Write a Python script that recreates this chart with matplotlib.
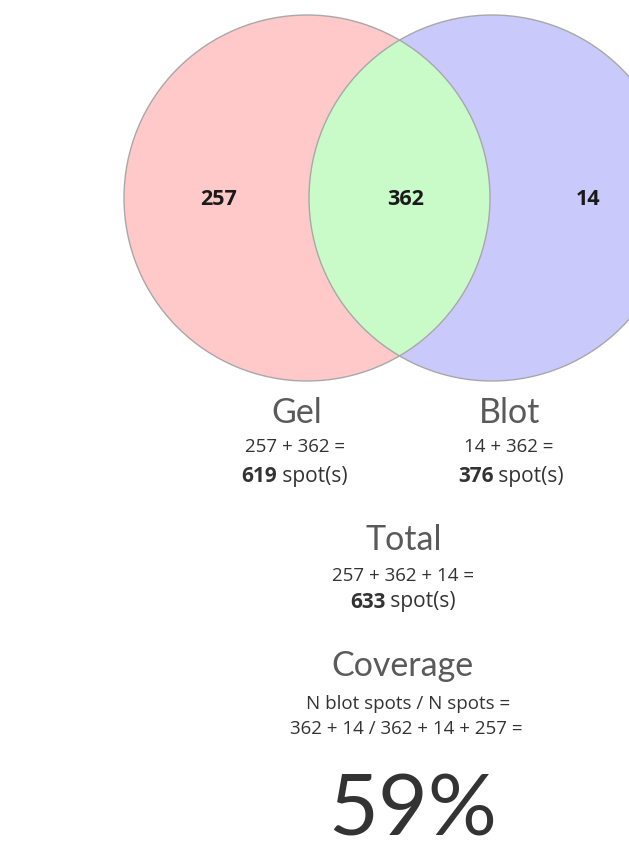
import matplotlib.pyplot as plt
from matplotlib.patches import Circle

# region counts of the two-set diagram
set_names = ['Gel', 'Blot']
only_gel = 257
shared = 362
only_blot = 14

gel_total = only_gel + shared
blot_total = only_blot + shared
total = only_gel + shared + only_blot
coverage = (shared + only_blot) / total * 100

pink = '#ffc9c9'
blue = '#c9c9fb'
green = '#c9fbc9'
edge = '#a8a8a8'

fig = plt.figure(figsize=(6.29, 8.57), dpi=100)
ax = fig.add_axes([0, 0, 1, 1])
ax.set_xlim(0, 629)
ax.set_ylim(857, 0)
ax.set_aspect('equal')
ax.axis('off')

r = 183
left = Circle((307, 198), r, facecolor=pink, edgecolor='none')
right = Circle((492, 198), r, facecolor=blue, edgecolor='none')
ax.add_patch(left)
ax.add_patch(right)
mid = Circle((307, 198), r, facecolor=green, edgecolor='none')
ax.add_patch(mid)
mid.set_clip_path(right)
for c in [(307, 198), (492, 198)]:
    ax.add_patch(Circle(c, r, facecolor='none', edgecolor=edge, lw=1.0))

num_kw = dict(family='Open Sans', fontweight='bold', fontsize=15.5,
              color='#1a1a1a', ha='center', va='center')
ax.text(219, 199, str(only_gel), **num_kw)
ax.text(406, 199, str(shared), **num_kw)
ax.text(588, 199, str(only_blot), **num_kw)

title_kw = dict(family='Lato', fontweight='normal', fontsize=24.5,
                color='#5a5a5a', ha='center', va='center')
form_kw = dict(family='Open Sans', fontsize=13.5, color='#333333',
               ha='center', va='center')
spot_kw = dict(family='Open Sans', fontsize=15, color='#333333',
               va='center')


def spot_line(x, y, n):
    t = ax.text(x, y, f'{n}', fontweight='bold', ha='right', **spot_kw)
    t2 = ax.text(x, y, ' spot(s)', ha='left', **spot_kw)
    fig.canvas.draw()
    inv = ax.transData.inverted()
    bb1 = t.get_window_extent().transformed(inv)
    bb2 = t2.get_window_extent().transformed(inv)
    w_num = abs(bb1.x1 - bb1.x0)
    w_txt = abs(bb2.x1 - bb2.x0)
    x0 = x - (w_num + w_txt) / 2
    t.set_x(x0 + w_num)
    t2.set_x(x0 + w_num)


ax.text(297, 413, set_names[0], **title_kw)
ax.text(295, 447, f'{only_gel} + {shared} =', **form_kw)
spot_line(294, 476, gel_total)

ax.text(510, 413, set_names[1], **title_kw)
ax.text(509, 447, f'{only_blot} + {shared} =', **form_kw)
spot_line(511, 476, blot_total)

ax.text(404, 540, 'Total', **title_kw)
ax.text(403, 576, f'{only_gel} + {shared} + {only_blot} =', **form_kw)
spot_line(403, 602, total)

ax.text(402, 666, 'Coverage', **title_kw)
ax.text(408, 704, 'N blot spots / N spots =', **form_kw)
ax.text(406, 729, f'{shared} + {only_blot} / {shared} + {only_blot} + {only_gel} =', **form_kw)

ax.text(413, 812, f'{coverage:.0f}%', family='Lato', fontweight='normal',
        fontsize=62, color='#333333', ha='center', va='center')

fig.savefig('out.png', dpi=100)
